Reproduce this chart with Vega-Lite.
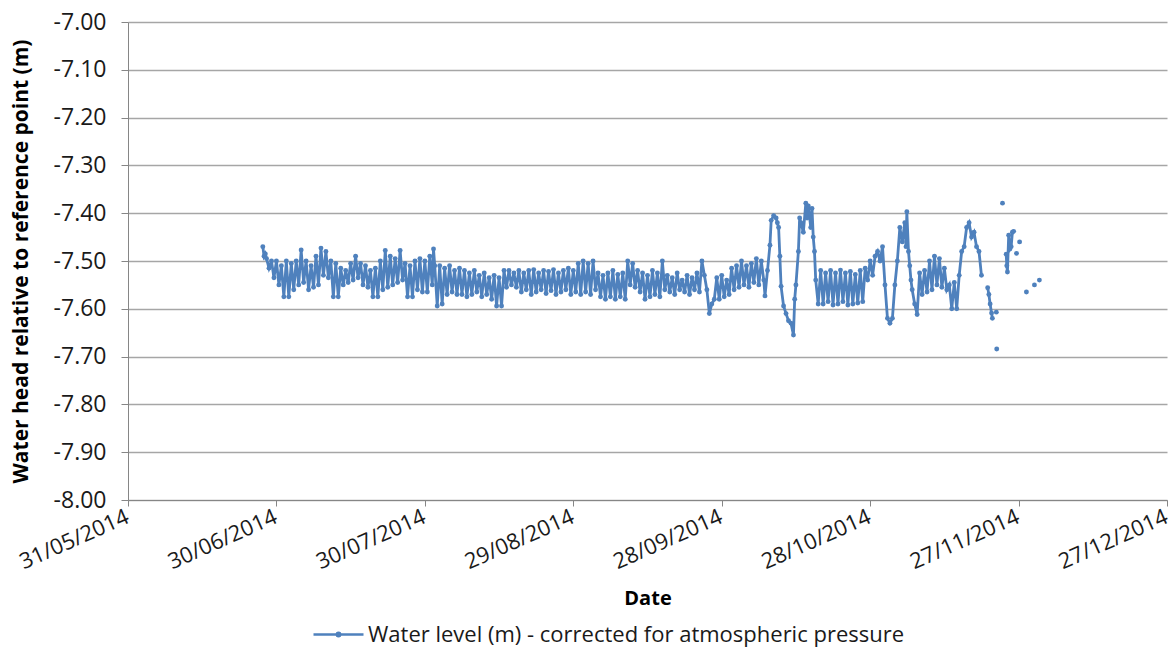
{
"$schema": "https://vega.github.io/schema/vega-lite/v6.json",
"width": 1039, "height": 478,
"autosize": "none",
"padding": {"left": 128, "top": 22, "right": 5, "bottom": 148},
"background": "white",
"config": {"view": {"stroke": null}, "font": "Open Sans"},
"data": {"values": [
{"date":"2014-06-27T06:00","level":-7.470},{"date":"2014-06-27T12:00","level":-7.490},{"date":"2014-06-27T18:00","level":-7.485},
{"date":"2014-06-28T00:00","level":-7.495},{"date":"2014-06-28T12:00","level":-7.515},
{"date":"2014-06-29T00:00","level":-7.500},{"date":"2014-06-29T12:00","level":-7.535},
{"date":"2014-06-30T00:00","level":-7.500},{"date":"2014-06-30T12:00","level":-7.550},
{"date":"2014-07-01T00:00","level":-7.510},{"date":"2014-07-01T12:00","level":-7.575},
{"date":"2014-07-02T00:00","level":-7.500},{"date":"2014-07-02T12:00","level":-7.575},
{"date":"2014-07-03T00:00","level":-7.505},{"date":"2014-07-03T12:00","level":-7.560},
{"date":"2014-07-04T00:00","level":-7.500},{"date":"2014-07-04T12:00","level":-7.550},
{"date":"2014-07-05T00:00","level":-7.477},{"date":"2014-07-05T12:00","level":-7.545},
{"date":"2014-07-06T00:00","level":-7.500},{"date":"2014-07-06T12:00","level":-7.560},
{"date":"2014-07-07T00:00","level":-7.510},{"date":"2014-07-07T12:00","level":-7.555},
{"date":"2014-07-08T00:00","level":-7.490},{"date":"2014-07-08T12:00","level":-7.550},
{"date":"2014-07-09T00:00","level":-7.473},{"date":"2014-07-09T12:00","level":-7.530},
{"date":"2014-07-10T00:00","level":-7.480},{"date":"2014-07-10T12:00","level":-7.535},
{"date":"2014-07-11T00:00","level":-7.500},{"date":"2014-07-11T12:00","level":-7.575},
{"date":"2014-07-12T00:00","level":-7.505},{"date":"2014-07-12T12:00","level":-7.575},
{"date":"2014-07-13T00:00","level":-7.515},{"date":"2014-07-13T12:00","level":-7.550},
{"date":"2014-07-14T00:00","level":-7.520},{"date":"2014-07-14T12:00","level":-7.545},
{"date":"2014-07-15T00:00","level":-7.505},{"date":"2014-07-15T12:00","level":-7.540},
{"date":"2014-07-16T00:00","level":-7.490},{"date":"2014-07-16T12:00","level":-7.535},
{"date":"2014-07-17T00:00","level":-7.505},{"date":"2014-07-17T12:00","level":-7.550},
{"date":"2014-07-18T00:00","level":-7.510},{"date":"2014-07-18T12:00","level":-7.555},
{"date":"2014-07-19T00:00","level":-7.520},{"date":"2014-07-19T12:00","level":-7.575},
{"date":"2014-07-20T00:00","level":-7.515},{"date":"2014-07-20T12:00","level":-7.575},
{"date":"2014-07-21T00:00","level":-7.500},{"date":"2014-07-21T12:00","level":-7.560},
{"date":"2014-07-22T00:00","level":-7.478},{"date":"2014-07-22T12:00","level":-7.555},
{"date":"2014-07-23T00:00","level":-7.490},{"date":"2014-07-23T12:00","level":-7.550},
{"date":"2014-07-24T00:00","level":-7.495},{"date":"2014-07-24T12:00","level":-7.545},
{"date":"2014-07-25T00:00","level":-7.478},{"date":"2014-07-25T12:00","level":-7.540},
{"date":"2014-07-26T00:00","level":-7.505},{"date":"2014-07-26T12:00","level":-7.575},
{"date":"2014-07-27T00:00","level":-7.510},{"date":"2014-07-27T12:00","level":-7.575},
{"date":"2014-07-28T00:00","level":-7.500},{"date":"2014-07-28T12:00","level":-7.560},
{"date":"2014-07-29T00:00","level":-7.495},{"date":"2014-07-29T12:00","level":-7.565},
{"date":"2014-07-30T00:00","level":-7.500},{"date":"2014-07-30T12:00","level":-7.565},
{"date":"2014-07-31T00:00","level":-7.490},{"date":"2014-07-31T12:00","level":-7.550},{"date":"2014-07-31T18:00","level":-7.475},
{"date":"2014-08-01T00:00","level":-7.510},{"date":"2014-08-01T12:00","level":-7.594},
{"date":"2014-08-02T00:00","level":-7.510},{"date":"2014-08-02T12:00","level":-7.590},
{"date":"2014-08-03T00:00","level":-7.515},{"date":"2014-08-03T12:00","level":-7.570},
{"date":"2014-08-04T00:00","level":-7.510},{"date":"2014-08-04T12:00","level":-7.565},
{"date":"2014-08-05T00:00","level":-7.520},{"date":"2014-08-05T12:00","level":-7.570},
{"date":"2014-08-06T00:00","level":-7.515},{"date":"2014-08-06T12:00","level":-7.570},
{"date":"2014-08-07T00:00","level":-7.520},{"date":"2014-08-07T12:00","level":-7.575},
{"date":"2014-08-08T00:00","level":-7.525},{"date":"2014-08-08T12:00","level":-7.570},
{"date":"2014-08-09T00:00","level":-7.520},{"date":"2014-08-09T12:00","level":-7.565},
{"date":"2014-08-10T00:00","level":-7.530},{"date":"2014-08-10T12:00","level":-7.575},
{"date":"2014-08-11T00:00","level":-7.525},{"date":"2014-08-11T12:00","level":-7.570},
{"date":"2014-08-12T00:00","level":-7.535},{"date":"2014-08-12T12:00","level":-7.580},
{"date":"2014-08-13T00:00","level":-7.530},{"date":"2014-08-13T12:00","level":-7.594},
{"date":"2014-08-14T00:00","level":-7.535},{"date":"2014-08-14T12:00","level":-7.594},
{"date":"2014-08-15T00:00","level":-7.520},{"date":"2014-08-15T12:00","level":-7.555},
{"date":"2014-08-16T00:00","level":-7.520},{"date":"2014-08-16T12:00","level":-7.550},
{"date":"2014-08-17T00:00","level":-7.525},{"date":"2014-08-17T12:00","level":-7.555},
{"date":"2014-08-18T00:00","level":-7.520},{"date":"2014-08-18T12:00","level":-7.565},
{"date":"2014-08-19T00:00","level":-7.525},{"date":"2014-08-19T12:00","level":-7.560},
{"date":"2014-08-20T00:00","level":-7.520},{"date":"2014-08-20T12:00","level":-7.570},
{"date":"2014-08-21T00:00","level":-7.518},{"date":"2014-08-21T12:00","level":-7.565},
{"date":"2014-08-22T00:00","level":-7.525},{"date":"2014-08-22T12:00","level":-7.560},
{"date":"2014-08-23T00:00","level":-7.520},{"date":"2014-08-23T12:00","level":-7.568},
{"date":"2014-08-24T00:00","level":-7.522},{"date":"2014-08-24T12:00","level":-7.562},
{"date":"2014-08-25T00:00","level":-7.518},{"date":"2014-08-25T12:00","level":-7.570},
{"date":"2014-08-26T00:00","level":-7.525},{"date":"2014-08-26T12:00","level":-7.565},
{"date":"2014-08-27T00:00","level":-7.520},{"date":"2014-08-27T12:00","level":-7.560},
{"date":"2014-08-28T00:00","level":-7.515},{"date":"2014-08-28T12:00","level":-7.570},
{"date":"2014-08-29T00:00","level":-7.520},{"date":"2014-08-29T12:00","level":-7.565},
{"date":"2014-08-30T00:00","level":-7.505},{"date":"2014-08-30T12:00","level":-7.570},
{"date":"2014-08-31T00:00","level":-7.500},{"date":"2014-08-31T12:00","level":-7.565},
{"date":"2014-09-01T00:00","level":-7.505},{"date":"2014-09-01T12:00","level":-7.570},
{"date":"2014-09-02T00:00","level":-7.500},{"date":"2014-09-02T12:00","level":-7.560},
{"date":"2014-09-03T00:00","level":-7.525},{"date":"2014-09-03T12:00","level":-7.575},
{"date":"2014-09-04T00:00","level":-7.530},{"date":"2014-09-04T12:00","level":-7.580},
{"date":"2014-09-05T00:00","level":-7.525},{"date":"2014-09-05T12:00","level":-7.575},
{"date":"2014-09-06T00:00","level":-7.520},{"date":"2014-09-06T12:00","level":-7.580},
{"date":"2014-09-07T00:00","level":-7.528},{"date":"2014-09-07T12:00","level":-7.575},
{"date":"2014-09-08T00:00","level":-7.525},{"date":"2014-09-08T12:00","level":-7.580},
{"date":"2014-09-09T00:00","level":-7.500},{"date":"2014-09-09T12:00","level":-7.550},
{"date":"2014-09-10T00:00","level":-7.505},{"date":"2014-09-10T12:00","level":-7.555},
{"date":"2014-09-11T00:00","level":-7.520},{"date":"2014-09-11T12:00","level":-7.565},
{"date":"2014-09-12T00:00","level":-7.525},{"date":"2014-09-12T12:00","level":-7.580},
{"date":"2014-09-13T00:00","level":-7.530},{"date":"2014-09-13T12:00","level":-7.575},
{"date":"2014-09-14T00:00","level":-7.520},{"date":"2014-09-14T12:00","level":-7.570},
{"date":"2014-09-15T00:00","level":-7.525},{"date":"2014-09-15T12:00","level":-7.575},
{"date":"2014-09-16T00:00","level":-7.500},{"date":"2014-09-16T12:00","level":-7.560},
{"date":"2014-09-17T00:00","level":-7.530},{"date":"2014-09-17T12:00","level":-7.565},
{"date":"2014-09-18T00:00","level":-7.535},{"date":"2014-09-18T12:00","level":-7.570},
{"date":"2014-09-19T00:00","level":-7.525},{"date":"2014-09-19T12:00","level":-7.560},
{"date":"2014-09-20T00:00","level":-7.540},{"date":"2014-09-20T12:00","level":-7.565},
{"date":"2014-09-21T00:00","level":-7.530},{"date":"2014-09-21T12:00","level":-7.570},
{"date":"2014-09-22T00:00","level":-7.535},{"date":"2014-09-22T12:00","level":-7.560},
{"date":"2014-09-23T00:00","level":-7.525},{"date":"2014-09-23T12:00","level":-7.565},
{"date":"2014-09-24T00:00","level":-7.500},{"date":"2014-09-24T12:00","level":-7.530},
{"date":"2014-09-25T00:00","level":-7.560},{"date":"2014-09-25T12:00","level":-7.610},
{"date":"2014-09-26T00:00","level":-7.590},{"date":"2014-09-26T12:00","level":-7.580},
{"date":"2014-09-27T00:00","level":-7.535},{"date":"2014-09-27T12:00","level":-7.580},
{"date":"2014-09-28T00:00","level":-7.530},{"date":"2014-09-28T12:00","level":-7.575},
{"date":"2014-09-29T00:00","level":-7.540},{"date":"2014-09-29T12:00","level":-7.570},
{"date":"2014-09-30T00:00","level":-7.515},{"date":"2014-09-30T12:00","level":-7.560},
{"date":"2014-10-01T00:00","level":-7.510},{"date":"2014-10-01T12:00","level":-7.555},
{"date":"2014-10-02T00:00","level":-7.500},{"date":"2014-10-02T12:00","level":-7.550},
{"date":"2014-10-03T00:00","level":-7.510},{"date":"2014-10-03T12:00","level":-7.555},
{"date":"2014-10-04T00:00","level":-7.505},{"date":"2014-10-04T12:00","level":-7.545},
{"date":"2014-10-05T00:00","level":-7.495},{"date":"2014-10-05T12:00","level":-7.550},
{"date":"2014-10-06T00:00","level":-7.500},{"date":"2014-10-06T12:00","level":-7.540},{"date":"2014-10-06T18:00","level":-7.573},
{"date":"2014-10-07T06:00","level":-7.520},{"date":"2014-10-07T18:00","level":-7.467},
{"date":"2014-10-08T00:00","level":-7.415},{"date":"2014-10-08T12:00","level":-7.405},
{"date":"2014-10-09T00:00","level":-7.410},{"date":"2014-10-09T06:00","level":-7.420},{"date":"2014-10-09T12:00","level":-7.430},{"date":"2014-10-09T18:00","level":-7.490},
{"date":"2014-10-10T00:00","level":-7.553},{"date":"2014-10-10T12:00","level":-7.594},
{"date":"2014-10-11T00:00","level":-7.610},{"date":"2014-10-11T12:00","level":-7.625},
{"date":"2014-10-12T00:00","level":-7.630},{"date":"2014-10-12T12:00","level":-7.655},{"date":"2014-10-12T18:00","level":-7.580},
{"date":"2014-10-13T00:00","level":-7.550},{"date":"2014-10-13T12:00","level":-7.480},{"date":"2014-10-13T18:00","level":-7.410},
{"date":"2014-10-14T00:00","level":-7.420},{"date":"2014-10-14T12:00","level":-7.440},
{"date":"2014-10-15T00:00","level":-7.379},{"date":"2014-10-15T06:00","level":-7.410},{"date":"2014-10-15T12:00","level":-7.385},
{"date":"2014-10-16T00:00","level":-7.430},{"date":"2014-10-16T06:00","level":-7.390},{"date":"2014-10-16T12:00","level":-7.450},{"date":"2014-10-16T18:00","level":-7.480},
{"date":"2014-10-17T00:00","level":-7.540},{"date":"2014-10-17T12:00","level":-7.590},
{"date":"2014-10-18T00:00","level":-7.520},{"date":"2014-10-18T12:00","level":-7.590},
{"date":"2014-10-19T00:00","level":-7.525},{"date":"2014-10-19T12:00","level":-7.585},
{"date":"2014-10-20T00:00","level":-7.520},{"date":"2014-10-20T12:00","level":-7.592},
{"date":"2014-10-21T00:00","level":-7.525},{"date":"2014-10-21T12:00","level":-7.590},
{"date":"2014-10-22T00:00","level":-7.519},{"date":"2014-10-22T12:00","level":-7.585},
{"date":"2014-10-23T00:00","level":-7.525},{"date":"2014-10-23T12:00","level":-7.592},
{"date":"2014-10-24T00:00","level":-7.522},{"date":"2014-10-24T12:00","level":-7.590},
{"date":"2014-10-25T00:00","level":-7.528},{"date":"2014-10-25T12:00","level":-7.588},
{"date":"2014-10-26T00:00","level":-7.520},{"date":"2014-10-26T12:00","level":-7.585},
{"date":"2014-10-27T00:00","level":-7.515},{"date":"2014-10-27T12:00","level":-7.540},
{"date":"2014-10-28T00:00","level":-7.500},{"date":"2014-10-28T12:00","level":-7.530},
{"date":"2014-10-29T00:00","level":-7.490},{"date":"2014-10-29T12:00","level":-7.480},
{"date":"2014-10-30T00:00","level":-7.500},{"date":"2014-10-30T12:00","level":-7.470},
{"date":"2014-10-31T00:00","level":-7.550},{"date":"2014-10-31T12:00","level":-7.620},
{"date":"2014-11-01T00:00","level":-7.630},{"date":"2014-11-01T12:00","level":-7.620},
{"date":"2014-11-02T00:00","level":-7.550},{"date":"2014-11-02T12:00","level":-7.500},
{"date":"2014-11-03T00:00","level":-7.430},{"date":"2014-11-03T12:00","level":-7.460},
{"date":"2014-11-04T00:00","level":-7.420},{"date":"2014-11-04T06:00","level":-7.470},{"date":"2014-11-04T10:00","level":-7.397},{"date":"2014-11-04T18:00","level":-7.480},
{"date":"2014-11-05T00:00","level":-7.510},{"date":"2014-11-05T06:00","level":-7.540},{"date":"2014-11-05T12:00","level":-7.560},
{"date":"2014-11-06T00:00","level":-7.590},{"date":"2014-11-06T12:00","level":-7.612},
{"date":"2014-11-07T00:00","level":-7.525},{"date":"2014-11-07T12:00","level":-7.570},
{"date":"2014-11-08T00:00","level":-7.520},{"date":"2014-11-08T12:00","level":-7.565},
{"date":"2014-11-09T00:00","level":-7.500},{"date":"2014-11-09T12:00","level":-7.560},
{"date":"2014-11-10T00:00","level":-7.490},{"date":"2014-11-10T12:00","level":-7.550},
{"date":"2014-11-11T00:00","level":-7.495},{"date":"2014-11-11T12:00","level":-7.555},
{"date":"2014-11-12T00:00","level":-7.515},{"date":"2014-11-12T12:00","level":-7.560},
{"date":"2014-11-13T00:00","level":-7.550},{"date":"2014-11-13T12:00","level":-7.600},
{"date":"2014-11-14T00:00","level":-7.545},{"date":"2014-11-14T12:00","level":-7.600},
{"date":"2014-11-15T00:00","level":-7.530},{"date":"2014-11-15T12:00","level":-7.480},
{"date":"2014-11-16T00:00","level":-7.470},{"date":"2014-11-16T12:00","level":-7.430},
{"date":"2014-11-17T00:00","level":-7.420},{"date":"2014-11-17T12:00","level":-7.450},
{"date":"2014-11-18T00:00","level":-7.440},{"date":"2014-11-18T12:00","level":-7.470},
{"date":"2014-11-19T00:00","level":-7.480},{"date":"2014-11-19T12:00","level":-7.530},
{"date":"2014-11-20T00:00","level":null},
{"date":"2014-11-20T18:00","level":-7.556},{"date":"2014-11-21T00:00","level":-7.570},{"date":"2014-11-21T06:00","level":-7.590},{"date":"2014-11-21T13:00","level":-7.609},{"date":"2014-11-21T17:00","level":-7.620},
{"date":"2014-11-22T00:00","level":null},
{"date":"2014-11-22T12:00","level":-7.607},
{"date":"2014-11-22T13:00","level":null},
{"date":"2014-11-22T14:00","level":-7.684},
{"date":"2014-11-23T00:00","level":null},
{"date":"2014-11-23T18:00","level":-7.379},
{"date":"2014-11-24T00:00","level":null},
{"date":"2014-11-24T12:00","level":-7.486},{"date":"2014-11-24T15:00","level":-7.510},{"date":"2014-11-24T18:00","level":-7.523},{"date":"2014-11-25T00:00","level":-7.446},{"date":"2014-11-25T06:00","level":-7.475},{"date":"2014-11-25T12:00","level":-7.470},{"date":"2014-11-25T18:00","level":-7.440},{"date":"2014-11-26T00:00","level":-7.438},
{"date":"2014-11-26T06:00","level":null},
{"date":"2014-11-26T14:00","level":-7.484},
{"date":"2014-11-27T00:00","level":null},
{"date":"2014-11-27T05:00","level":-7.460},
{"date":"2014-11-28T00:00","level":null},
{"date":"2014-11-28T14:00","level":-7.565},
{"date":"2014-11-29T00:00","level":null},
{"date":"2014-11-30T05:00","level":-7.550},
{"date":"2014-11-30T12:00","level":null},
{"date":"2014-12-01T05:00","level":-7.540}
]},
"encoding": {
  "x": {"field": "date", "type": "temporal",
    "scale": {"domain": [{"year": 2014, "month": 5, "date": 31}, {"year": 2014, "month": 12, "date": 27}]},
    "axis": {"title": "Date", "format": "%d/%m/%Y",
      "values": [{"year": 2014, "month": 5, "date": 31}, {"year": 2014, "month": 6, "date": 30}, {"year": 2014, "month": 7, "date": 30}, {"year": 2014, "month": 8, "date": 29}, {"year": 2014, "month": 9, "date": 28}, {"year": 2014, "month": 10, "date": 28}, {"year": 2014, "month": 11, "date": 27}, {"year": 2014, "month": 12, "date": 27}],
      "grid": false, "labelAngle": -24, "labelAlign": "right", "labelBaseline": "top", "labelPadding": 0, "labelOffset": -5,
      "labelFont": "Open Sans", "labelFontSize": 22, "labelColor": "#1a1a1a", "labelFlush": false, "labelOverlap": false, "labelBound": false,
      "domainColor": "#868686", "tickColor": "#868686", "tickSize": 6,
      "titleFont": "Open Sans", "titleFontSize": 20, "titleFontWeight": "bold", "titleColor": "#000000", "titlePadding": 16}},
  "y": {"field": "level", "type": "quantitative",
    "scale": {"domain": [-8, -7], "zero": false, "nice": false},
    "axis": {"title": "Water head relative to reference point (m)",
      "labelExpr": "replace(format(datum.value, '.2f'), '\u2212', '-')",
      "values": [-8, -7.9, -7.8, -7.7, -7.6, -7.5, -7.4, -7.3, -7.2, -7.1, -7],
      "gridColor": "#a6a6a6", "gridWidth": 1.3,
      "labelFont": "Open Sans", "labelFontSize": 23, "labelColor": "#1a1a1a", "labelPadding": 15,
      "domainColor": "#868686", "tickColor": "#868686", "tickSize": 7,
      "titleFont": "Open Sans", "titleFontSize": 21, "titleFontWeight": "bold", "titleColor": "#000000", "titlePadding": 22}},
  "color": {"datum": "Water level (m) - corrected for atmospheric pressure", "type": "nominal",
    "scale": {"range": ["#4F81BD"]},
    "legend": {"title": null, "orient": "none", "legendX": 184, "legendY": 586, "labelLimit": 0,
      "symbolType": "M-1,0L1,0M-0.07,0A0.07,0.07 0 1,0 0.07,0A0.07,0.07 0 1,0 -0.07,0", "symbolSize": 2500, "symbolStrokeWidth": 2.5, "symbolStrokeColor": "#4F81BD", "symbolFillColor": "transparent",
      "labelFont": "Open Sans", "labelFontSize": 22, "labelColor": "#1a1a1a", "labelOffset": 3}}
},
"layer": [
  {"mark": {"type": "line", "strokeWidth": 2.8, "invalid": "break-paths-filter-domains"}},
  {"mark": {"type": "point", "filled": true, "size": 24, "opacity": 1}}
]
}
